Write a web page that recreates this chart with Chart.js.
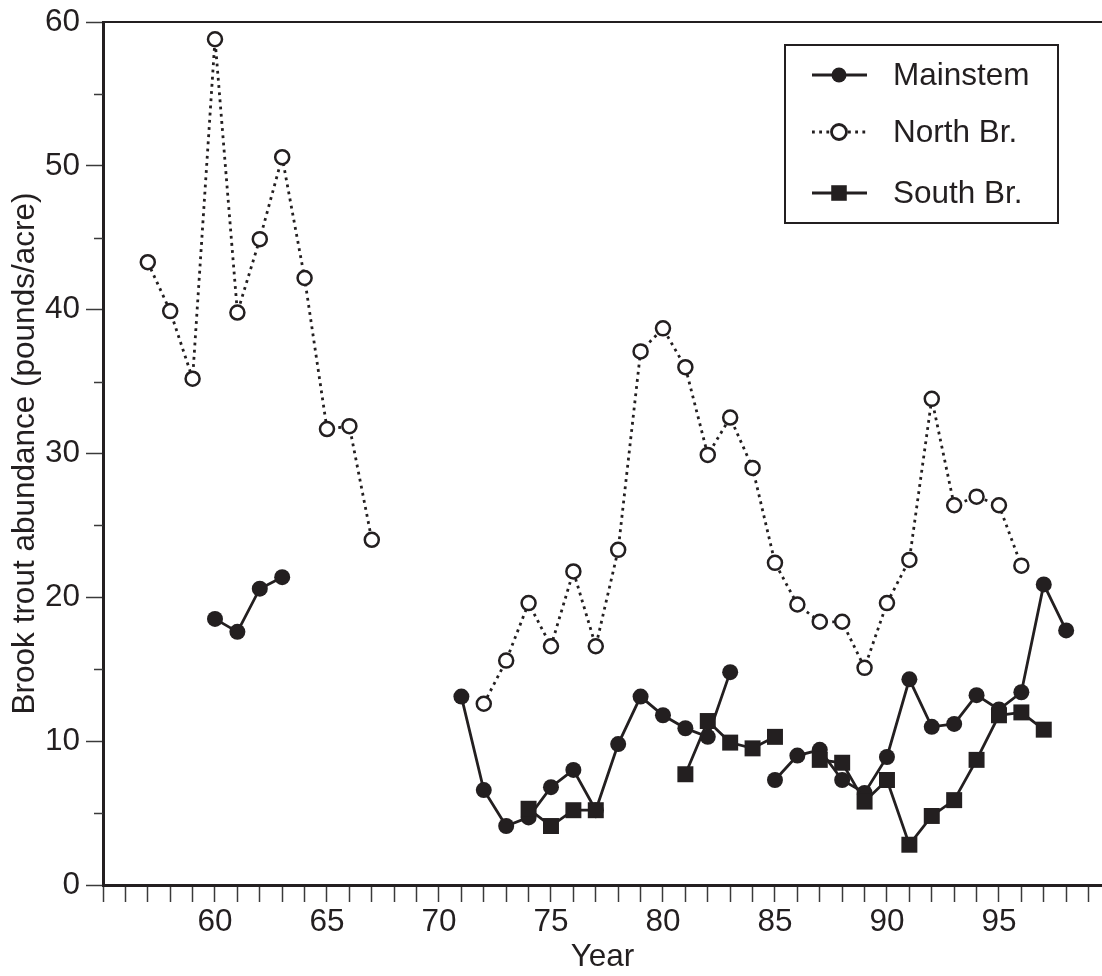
<!DOCTYPE html>
<html lang="en">
<head>
<meta charset="UTF-8">
<title>Brook trout abundance</title>
<script src="https://cdn.jsdelivr.net/npm/chart.js@4.4.1/dist/chart.umd.min.js"></script>
<style>
  html, body { margin: 0; padding: 0; background: #fff; }
</style>
</head>
<body>
<canvas id="troutChart" width="1102" height="976"></canvas>
<script>
// survey years (19xx) and abundance in pounds/acre, null = no survey
const years = [57, 58, 59, 60, 61, 62, 63, 64, 65, 66, 67, 68, 69, 70,
               71, 72, 73, 74, 75, 76, 77, 78, 79, 80, 81, 82, 83, 84,
               85, 86, 87, 88, 89, 90, 91, 92, 93, 94, 95, 96, 97, 98];

const mainstem = [null, null, null, 18.5, 17.6, 20.6, 21.4, null, null, null, null, null, null, null,
                  13.1, 6.6, 4.1, 4.7, 6.8, 8.0, 5.2, 9.8, 13.1, 11.8, 10.9, 10.3, 14.8, null,
                  7.3, 9.0, 9.4, 7.3, 6.4, 8.9, 14.3, 11.0, 11.2, 13.2, 12.2, 13.4, 20.9, 17.7];

const northBr = [43.3, 39.9, 35.2, 58.8, 39.8, 44.9, 50.6, 42.2, 31.7, 31.9, 24.0, null, null, null,
                 null, 12.6, 15.6, 19.6, 16.6, 21.8, 16.6, 23.3, 37.1, 38.7, 36.0, 29.9, 32.5, 29.0,
                 22.4, 19.5, 18.3, 18.3, 15.1, 19.6, 22.6, 33.8, 26.4, 27.0, 26.4, 22.2, null, null];

const southBr = [null, null, null, null, null, null, null, null, null, null, null, null, null, null,
                 null, null, null, 5.3, 4.1, 5.2, 5.2, null, null, null, 7.7, 11.4, 9.9, 9.5,
                 10.3, null, 8.7, 8.5, 5.8, 7.3, 2.8, 4.8, 5.9, 8.7, 11.8, 12.0, 10.8, null];

const seriesNames = ['Mainstem', 'North Br.', 'South Br.'];
const xTickLabels = [60, 65, 70, 75, 80, 85, 90, 95];
const yTickLabels = [0, 10, 20, 30, 40, 50, 60];
const yMinorTicks = [5, 15, 25, 35, 45, 55];

const xTickYears = [];
for (let yr = 55; yr <= 99; yr++) xTickYears.push(yr);

const ink = '#231f20';
const tickInk = '#3a3a3a';
const font = { family: "'Liberation Sans', Arial, sans-serif", size: 31.5 };

const toPoints = vals => years.map((yr, i) => ({ x: yr, y: vals[i] }));

// legend box + minor y ticks + top frame line
const extras = {
  id: 'extras',
  afterDraw(chart) {
    const { ctx, chartArea: a, scales: { y } } = chart;
    ctx.save();

    ctx.strokeStyle = ink;
    ctx.lineWidth = 2;
    ctx.beginPath();
    ctx.moveTo(a.left, a.top);
    ctx.lineTo(chart.width, a.top);
    ctx.stroke();

    ctx.strokeStyle = tickInk;
    ctx.lineWidth = 1.5;
    ctx.beginPath();
    yMinorTicks.forEach(v => {
      const py = Math.round(y.getPixelForValue(v)) + 0.5;
      ctx.moveTo(a.left - 9, py);
      ctx.lineTo(a.left, py);
    });
    ctx.stroke();

    // legend
    const box = { x: 785, y: 45, w: 273, h: 178 };
    ctx.strokeStyle = ink;
    ctx.lineWidth = 2;
    ctx.strokeRect(box.x, box.y, box.w, box.h);

    const rowY = [75, 132, 193];
    chart.data.datasets.forEach((ds, i) => {
      const cy = rowY[i];
      ctx.strokeStyle = ds.borderColor;
      ctx.lineWidth = ds.borderWidth;
      ctx.setLineDash(ds.borderDash || []);
      ctx.beginPath();
      ctx.moveTo(812, cy);
      ctx.lineTo(867, cy);
      ctx.stroke();
      ctx.setLineDash([]);

      ctx.fillStyle = ds.pointBackgroundColor;
      ctx.strokeStyle = ds.pointBorderColor;
      Chart.helpers.drawPoint(ctx, {
        pointStyle: ds.pointStyle,
        radius: ds.pointStyle === 'rect' ? 11 : 7.5,
        borderWidth: ds.pointBorderWidth,
        rotation: 0
      }, 839, cy);

      ctx.fillStyle = ink;
      ctx.font = font.size + 'px ' + font.family;
      ctx.textAlign = 'left';
      ctx.textBaseline = 'middle';
      ctx.fillText(ds.label, 893, cy + 1);
    });

    ctx.restore();
  }
};

new Chart(document.getElementById('troutChart'), {
  type: 'line',
  data: {
    datasets: [
      {
        label: seriesNames[0],
        data: toPoints(mainstem),
        borderColor: ink,
        borderWidth: 2.8,
        pointStyle: 'circle',
        pointRadius: 8,
        pointBackgroundColor: ink,
        pointBorderColor: ink,
        pointBorderWidth: 0,
        order: 1
      },
      {
        label: seriesNames[1],
        data: toPoints(northBr),
        borderColor: ink,
        borderWidth: 2.8,
        borderDash: [2.8, 4.4],
        pointStyle: 'circle',
        pointRadius: 7,
        pointBackgroundColor: '#fff',
        pointBorderColor: ink,
        pointBorderWidth: 2.5,
        order: 2
      },
      {
        label: seriesNames[2],
        data: toPoints(southBr),
        borderColor: ink,
        borderWidth: 2.8,
        pointStyle: 'rect',
        pointRadius: 11.3,
        pointBackgroundColor: ink,
        pointBorderColor: ink,
        pointBorderWidth: 0,
        order: 0
      }
    ]
  },
  options: {
    responsive: false,
    animation: false,
    devicePixelRatio: 1,
    spanGaps: false,
    layout: { autoPadding: false, padding: { top: 22, right: 0, bottom: 0, left: 0 } },
    plugins: {
      legend: { display: false },
      tooltip: { enabled: false }
    },
    elements: { line: { tension: 0 } },
    scales: {
      x: {
        type: 'linear',
        min: 55,
        max: 99.6,
        afterBuildTicks: axis => { axis.ticks = xTickYears.map(v => ({ value: v })); },
        afterFit: s => { s.height = 91; s.paddingLeft = 0; s.paddingRight = 0; },
        border: { color: ink, width: 3 },
        grid: { drawOnChartArea: false, tickLength: 17, tickColor: tickInk, tickWidth: 1.5 },
        ticks: {
          autoSkip: false,
          maxRotation: 0,
          padding: 1,
          color: ink,
          font: font,
          callback: v => xTickLabels.includes(v) ? String(v) : ''
        },
        title: { display: true, text: 'Year', color: ink, font: font, padding: 0 }
      },
      y: {
        min: 0,
        max: 60,
        afterBuildTicks: axis => { axis.ticks = yTickLabels.map(v => ({ value: v })); },
        afterFit: s => { s.width = 103; s.paddingTop = 0; s.paddingBottom = 0; },
        border: { color: ink, width: 3 },
        grid: { drawOnChartArea: false, tickLength: 17, tickColor: tickInk, tickWidth: 1.5 },
        ticks: { padding: 6, color: ink, font: font },
        title: {
          display: true,
          text: 'Brook trout abundance (pounds/acre)',
          color: ink,
          font: font,
          padding: { top: 6, bottom: 0 }
        }
      }
    }
  },
  plugins: [extras]
});
</script>
</body>
</html>
